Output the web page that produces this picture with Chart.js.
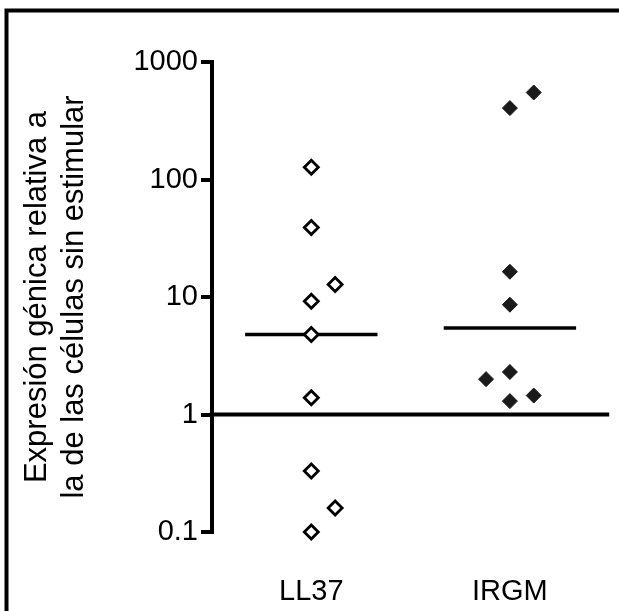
<!DOCTYPE html>
<html lang="es">
<head>
<meta charset="UTF-8" />
<title>Expresión génica relativa</title>
<script src="https://cdn.jsdelivr.net/npm/chart.js"></script>
<style>
  html, body { margin: 0; padding: 0; background: #fff; }
  #chart { display: block; }
</style>
</head>
<body>
<canvas id="chart" width="619" height="611"></canvas>
<script>
const categories = ["LL37", "IRGM"];
const ll37Values = [127, 39, 12.8, 9.2, 4.8, 1.39, 0.33, 0.16, 0.1];
const ll37Slots = [0, 0, 1, 0, 0, 0, 0, 1, 0]; // side-by-side slot of each point
const irgmValues = [550, 405, 16.4, 8.6, 2.3, 2.0, 1.45, 1.3];
const irgmSlots = [1, 0, 0, 0, 0, -1, 1, 0];
const yTicks = [0.1, 1, 10, 100, 1000];
const baselineValue = 1;
const yTitle = ["Expresión génica relativa a", "la de las células sin estimular"];

const slotWidth = 0.12;
const medianHalf = 1 / 3;

function median(arr) {
    const s = [...arr].sort((a, b) => a - b);
    const m = Math.floor(s.length / 2);
    return s.length % 2 ? s[m] : (s[m - 1] + s[m]) / 2;
}

function toPoints(values, slots, col) {
    return values.map((v, i) => ({ x: col + slots[i] * slotWidth, y: v }));
}

function medianLine(values, col) {
    const m = median(values);
    return [{ x: col - medianHalf, y: m }, { x: col + medianHalf, y: m }];
}

Chart.defaults.font.family = '"Liberation Sans", Arial, sans-serif';
Chart.defaults.color = "#000";

// frame lines on the left and top
const framePlugin = {
    id: "frame",
    beforeDraw(chart) {
        const ctx = chart.ctx;
        ctx.save();
        ctx.fillStyle = "#fff";
        ctx.fillRect(0, 0, chart.width, chart.height);
        ctx.strokeStyle = "#000";
        ctx.lineWidth = 4;
        ctx.beginPath();
        ctx.moveTo(6.5, chart.height);
        ctx.lineTo(6.5, 10.5);
        ctx.lineTo(chart.width, 10.5);
        ctx.stroke();
        ctx.restore();
    },
};

const ctx = document.getElementById("chart").getContext("2d");
new Chart(ctx, {
    type: "scatter",
    data: {
        datasets: [
            {
                label: "LL37",
                data: toPoints(ll37Values, ll37Slots, 0),
                pointStyle: "rectRot",
                pointRadius: 7,
                borderWidth: 2.8,
                borderColor: "#000",
                backgroundColor: "#fff",
                clip: false,
                order: 0,
            },
            {
                label: "IRGM",
                data: toPoints(irgmValues, irgmSlots, 1),
                pointStyle: "rectRot",
                pointRadius: 7.5,
                borderWidth: 1,
                borderColor: "#1a1a1a",
                backgroundColor: "#1a1a1a",
                clip: false,
                order: 0,
            },
            {
                type: "line",
                data: medianLine(ll37Values, 0),
                borderColor: "#000",
                borderWidth: 3.5,
                pointRadius: 0,
                order: 1,
            },
            {
                type: "line",
                data: medianLine(irgmValues, 1),
                borderColor: "#000",
                borderWidth: 3.5,
                pointRadius: 0,
                order: 1,
            },
            {
                type: "line",
                data: [{ x: -0.5, y: baselineValue }, { x: 1.5, y: baselineValue }],
                borderColor: "#000",
                borderWidth: 4,
                pointRadius: 0,
                clip: false,
                order: 2,
            },
        ],
    },
    options: {
        responsive: false,
        animation: false,
        layout: { padding: { top: 62, left: 0, right: 0, bottom: 0 } },
        plugins: {
            legend: { display: false },
            tooltip: { enabled: false },
        },
        scales: {
            x: {
                type: "linear",
                min: -0.5,
                max: 1.5,
                afterBuildTicks: (s) => {
                    s.ticks = categories.map((c, i) => ({ value: i }));
                },
                afterFit: (s) => {
                    s.height = 79;
                },
                border: { display: false },
                grid: { display: false, drawTicks: false },
                ticks: {
                    padding: 43,
                    font: { size: 29 },
                    color: "#000",
                    callback: (v) => categories[v],
                },
            },
            y: {
                type: "logarithmic",
                min: 0.1,
                max: 1000,
                afterBuildTicks: (s) => {
                    s.ticks = yTicks.map((v) => ({ value: v }));
                },
                afterFit: (s) => {
                    s.width = 212;
                },
                border: { display: true, color: "#000", width: 4 },
                grid: {
                    drawOnChartArea: false,
                    drawTicks: true,
                    tickLength: 11,
                    lineWidth: 4,
                    color: "#000",
                },
                ticks: {
                    padding: 3,
                    font: { size: 29 },
                    color: "#000",
                    callback: (v) => String(v),
                },
                title: {
                    display: true,
                    text: yTitle,
                    font: { size: 31 },
                    color: "#000",
                    padding: { top: 19, bottom: 0 },
                },
            },
        },
    },
    plugins: [framePlugin],
});
</script>
</body>
</html>
